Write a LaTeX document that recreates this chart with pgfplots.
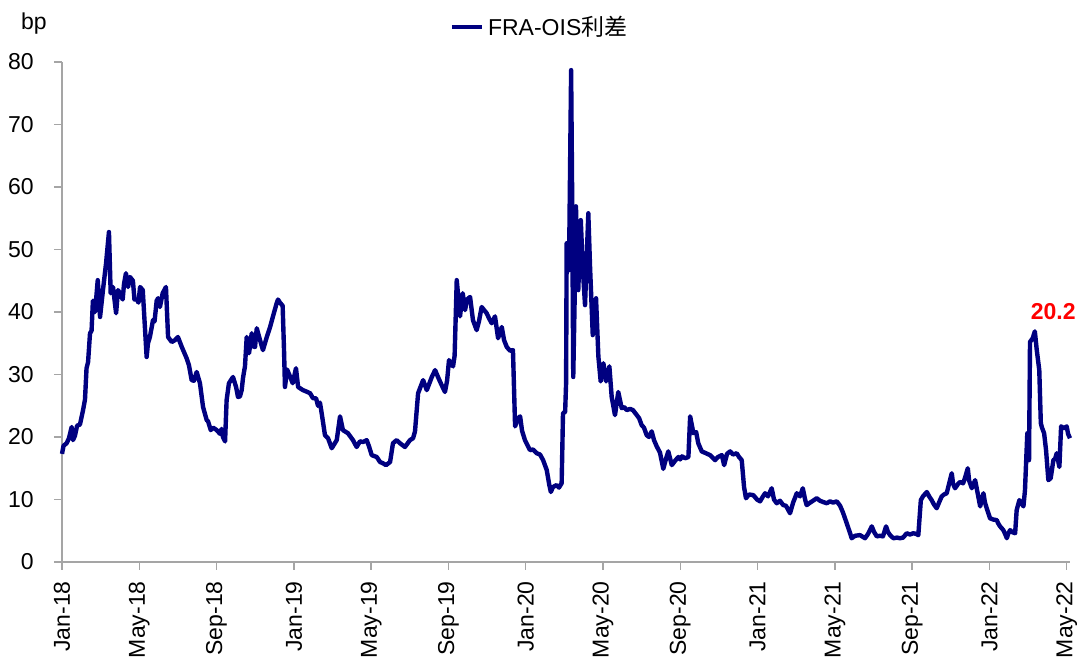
\documentclass[border=0pt]{standalone}
\usepackage{fontspec}
\setmainfont{Liberation Sans}
\newfontfamily\cjk{Noto Sans CJK SC}
\usepackage{pgfplots}
\pgfplotsset{compat=1.18}
\definecolor{navyline}{RGB}{0,0,128}
\definecolor{axisgray}{RGB}{165,165,165}

\begin{document}
\begin{tikzpicture}
\begin{axis}[
    name=ax,
    scale only axis,
    width=504pt, height=250pt,
    xmin=0, xmax=52.17,
    ymin=0, ymax=80,
    axis lines*=left,
    axis line style={axisgray, line width=0.7pt},
    tick style={axisgray, line width=0.7pt},
    tick align=outside,
    major tick length=4pt,
    xtick={0,4,8,12,16,20,24,28,32,36,40,44,48,52},
    xticklabels={Jan-18,May-18,Sep-18,Jan-19,May-19,Sep-19,Jan-20,May-20,Sep-20,Jan-21,May-21,Sep-21,Jan-22,May-22},
    ytick={0,10,...,80},
    xticklabel style={rotate=90, anchor=east, inner sep=0pt},
    yticklabel style={anchor=east, inner sep=0pt},
    xticklabel shift=5.5pt,
    yticklabel shift=10pt,
    /pgf/number format/assume math mode=true,
    tick label style={font=\fontsize{11.5pt}{13pt}\selectfont},
    clip=false,
    legend style={at={(axis description cs:0.4747,1)}, anchor=center, yshift=17.5pt,
        draw=none, fill=none, font=\fontsize{11.5pt}{13pt}\selectfont,
        inner sep=0pt},
    legend image code/.code={\draw[#1] (0pt,0pt) -- (15pt,0pt);},
]
\addplot[navyline, line width=2.2pt, line join=round] coordinates {
(0.00,17.3) (0.08,18.6) (0.24,19.0) (0.36,19.8) (0.50,21.6) (0.57,19.5) (0.67,20.2) (0.78,21.8)
(0.93,22.0) (1.09,24.3) (1.19,26.0) (1.27,31.0) (1.35,32.0) (1.45,36.6) (1.53,37.0) (1.60,41.8)
(1.71,40.0) (1.85,45.1) (1.97,39.2) (2.12,43.5) (2.28,47.8) (2.43,52.8) (2.52,43.0) (2.64,44.0)
(2.80,39.8) (2.90,43.5) (3.00,43.0) (3.14,42.0) (3.21,44.5) (3.31,46.2) (3.42,44.0) (3.52,45.6)
(3.67,45.0) (3.75,42.0) (3.87,42.0) (3.96,41.5) (4.04,44.0) (4.18,43.5) (4.30,37.1) (4.38,32.8)
(4.45,35.0) (4.55,36.0) (4.71,38.7) (4.79,38.5) (4.90,41.8) (4.97,42.2) (5.07,40.8) (5.21,43.0)
(5.38,44.0) (5.49,36.0) (5.68,35.2) (5.85,35.5) (6.00,36.0) (6.20,34.4) (6.45,32.6) (6.57,31.5)
(6.71,29.1) (6.83,29.0) (6.97,30.4) (7.14,28.6) (7.30,24.8) (7.49,22.7) (7.56,22.5) (7.70,21.1)
(7.82,21.5) (8.01,21.1) (8.18,20.5) (8.26,21.3) (8.33,20.0) (8.44,19.3) (8.52,25.9) (8.64,28.6)
(8.85,29.6) (9.01,28.0) (9.11,26.4) (9.21,26.5) (9.30,27.5) (9.37,29.5) (9.47,31.3) (9.56,36.0)
(9.68,33.4) (9.82,36.6) (9.89,34.5) (9.99,34.4) (10.08,37.4) (10.25,35.5) (10.40,33.9) (10.60,36.0)
(10.77,37.6) (10.92,39.3) (11.11,41.4) (11.18,42.0) (11.28,41.5) (11.42,41.0) (11.49,34.0) (11.54,28.0)
(11.65,30.8) (11.80,29.7) (11.94,28.6) (12.11,31.0) (12.22,28.0) (12.47,27.5) (12.63,27.3) (12.84,27.0)
(12.99,26.2) (13.15,26.2) (13.25,25.0) (13.35,25.5) (13.44,23.8) (13.61,20.3) (13.77,19.8) (13.96,18.2)
(14.22,19.5) (14.39,23.3) (14.54,21.1) (14.80,20.6) (15.06,19.5) (15.25,18.4) (15.42,19.3) (15.58,19.2)
(15.77,19.5) (15.89,18.5) (16.03,17.1) (16.29,16.8) (16.46,16.0) (16.61,15.8) (16.77,15.5) (16.98,16.0)
(17.13,19.0) (17.32,19.5) (17.49,19.0) (17.75,18.4) (18.01,19.5) (18.17,19.8) (18.27,20.9) (18.43,27.0)
(18.69,29.1) (18.88,27.5) (19.14,29.6) (19.31,30.7) (19.46,29.6) (19.62,28.5) (19.82,27.2) (19.93,29.0)
(20.03,32.3) (20.24,31.3) (20.32,33.0) (20.43,45.1) (20.60,39.3) (20.74,43.0) (20.86,40.3) (20.96,42.0)
(21.12,42.4) (21.27,38.7) (21.46,37.1) (21.58,38.5) (21.72,40.8) (21.98,39.8) (22.10,39.0) (22.24,38.2)
(22.41,39.3) (22.57,35.8) (22.76,37.6) (22.88,35.5) (23.02,34.4) (23.19,33.8) (23.34,33.9) (23.45,21.7)
(23.60,23.0) (23.71,23.3) (23.81,21.0) (23.96,19.5) (24.22,17.9) (24.38,18.0) (24.57,17.4) (24.74,17.2)
(24.90,16.3) (25.09,14.7) (25.21,12.5) (25.30,11.2) (25.41,12.0) (25.60,12.3) (25.72,11.9) (25.86,12.6)
(25.93,23.8) (26.04,24.0) (26.09,28.6) (26.12,51.0) (26.19,48.0) (26.24,46.7) (26.35,78.7) (26.40,60.0)
(26.46,29.6) (26.55,45.0) (26.60,56.9) (26.66,50.0) (26.72,43.5) (26.85,54.7) (26.95,47.2) (27.07,41.1)
(27.24,55.8) (27.33,47.2) (27.47,36.3) (27.64,42.2) (27.76,32.9) (27.88,28.9) (28.02,31.8) (28.16,28.9)
(28.33,31.3) (28.45,26.4) (28.62,23.5) (28.79,27.2) (28.97,24.6) (29.09,24.8) (29.23,24.3) (29.40,24.5)
(29.55,24.3) (29.75,23.5) (29.87,23.0) (30.00,21.9) (30.12,21.5) (30.26,20.3) (30.38,20.0) (30.52,20.9)
(30.64,19.5) (30.78,18.5) (30.95,17.5) (31.12,14.9) (31.26,16.5) (31.38,17.7) (31.56,15.5) (31.73,16.2)
(31.90,16.8) (31.99,16.4) (32.09,16.9) (32.25,16.6) (32.42,16.8) (32.51,23.3) (32.68,20.6) (32.82,20.8)
(32.93,19.0) (33.11,17.7) (33.33,17.4) (33.54,17.1) (33.80,16.3) (33.95,16.8) (34.15,17.1) (34.27,15.5)
(34.42,17.3) (34.58,17.7) (34.73,17.2) (34.92,17.4) (35.04,16.8) (35.18,16.3) (35.30,12.0) (35.40,10.2)
(35.56,10.8) (35.78,10.7) (35.97,10.0) (36.13,9.7) (36.28,10.5) (36.39,11.0) (36.54,10.5) (36.73,11.8)
(36.85,10.0) (36.99,9.4) (37.16,9.8) (37.33,9.1) (37.47,9.0) (37.68,7.8) (37.84,9.5) (38.03,11.0)
(38.20,10.5) (38.34,11.8) (38.46,10.0) (38.54,9.1) (38.72,9.5) (38.87,9.8) (39.06,10.2) (39.23,9.8)
(39.39,9.6) (39.58,9.4) (39.75,9.7) (39.91,9.5) (40.10,9.7) (40.27,9.0) (40.41,8.0) (40.58,6.5)
(40.79,4.6) (40.87,3.8) (41.05,4.2) (41.30,4.3) (41.46,4.0) (41.56,3.8) (41.72,4.5) (41.91,5.7)
(42.03,4.8) (42.17,4.1) (42.34,4.2) (42.49,4.1) (42.65,5.7) (42.75,4.8) (42.86,4.3) (43.03,3.8)
(43.22,3.9) (43.37,3.8) (43.53,3.9) (43.72,4.6) (43.89,4.4) (44.06,4.6) (44.20,4.5) (44.32,4.3)
(44.45,9.9) (44.56,10.5) (44.76,11.2) (44.88,10.5) (45.01,9.9) (45.13,9.2) (45.27,8.6) (45.39,9.5)
(45.53,10.5) (45.65,10.8) (45.79,11.0) (45.91,12.5) (46.05,14.2) (46.12,12.5) (46.22,11.8) (46.38,12.5)
(46.48,12.8) (46.64,12.6) (46.74,13.5) (46.88,15.0) (46.95,13.0) (47.09,11.8) (47.26,13.1) (47.36,11.5)
(47.52,8.9) (47.69,11.0) (47.77,9.5) (47.89,8.3) (48.03,7.0) (48.19,6.8) (48.38,6.7) (48.45,6.2)
(48.55,5.7) (48.72,5.1) (48.81,4.5) (48.90,3.8) (48.97,4.5) (49.07,5.1) (49.17,4.8) (49.33,4.6)
(49.41,8.3) (49.55,9.9) (49.64,9.5) (49.76,8.9) (49.84,11.5) (49.96,20.6) (50.05,16.3) (50.10,35.2)
(50.24,35.8) (50.35,36.9) (50.45,33.9) (50.58,30.7) (50.66,22.2) (50.72,21.5) (50.83,20.6) (50.93,17.9)
(51.05,13.1) (51.17,13.4) (51.31,16.3) (51.40,16.5) (51.48,17.4) (51.62,15.2) (51.71,21.7) (51.86,21.4)
(52.00,21.7) (52.07,20.5) (52.17,19.8)
};
\addlegendentry{FRA-OIS{\cjk 利差}}
\node[text=red, font=\fontsize{11.5pt}{13pt}\selectfont\bfseries] at (axis cs:51.3,40) {20.2};
\end{axis}
\node[font=\fontsize{11.5pt}{13pt}\selectfont] at ([xshift=-14pt,yshift=19pt]ax.north west) {bp};
\pgfresetboundingbox
\path ([xshift=-31pt,yshift=-48.5pt]ax.south west) rectangle ([xshift=5pt,yshift=31pt]ax.north east);
\end{tikzpicture}
\end{document}
